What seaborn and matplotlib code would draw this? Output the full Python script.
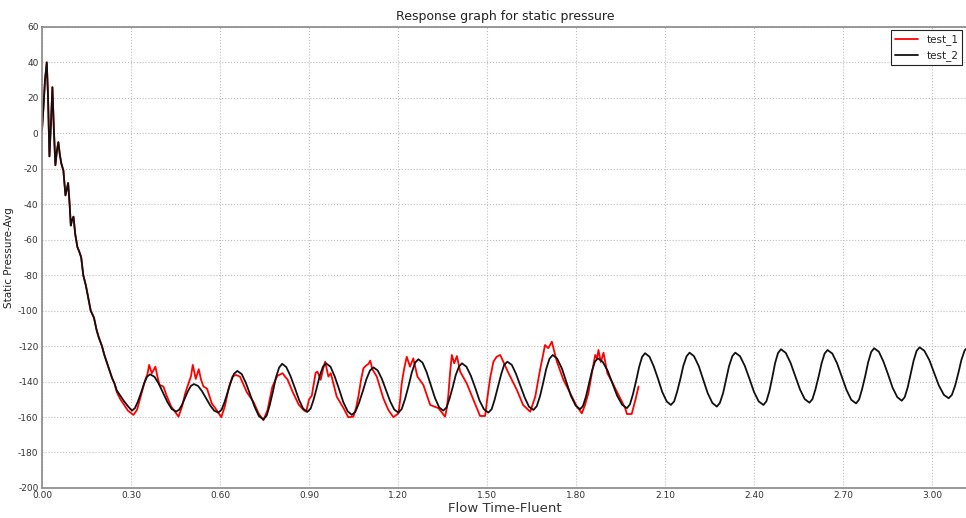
import numpy as np
import pandas as pd
import matplotlib
matplotlib.use("Agg")
import matplotlib.pyplot as plt
import seaborn as sns
from matplotlib.ticker import FormatStrFormatter, MultipleLocator

# Start-up transient, shared by both runs
start_t = [0.000, 0.005, 0.010, 0.016, 0.020, 0.025, 0.030, 0.035, 0.040, 0.045,
           0.050, 0.055, 0.060, 0.065, 0.072, 0.079, 0.084, 0.088, 0.093, 0.097,
           0.101, 0.106, 0.112, 0.119, 0.126, 0.132, 0.139, 0.148, 0.156, 0.164,
           0.175, 0.184, 0.191, 0.202, 0.210, 0.218, 0.228, 0.236, 0.244]
start_p = [2, 15, 30, 40, 22, -13, 5, 26, 2, -18,
           -10, -5, -12, -17, -21, -35, -31, -28, -40, -52,
           -49, -47, -57, -64, -67, -70, -80, -86, -93, -100,
           -104, -111, -115, -120, -125, -129, -134, -138, -141]

# test_1 (red), after the transient
t1_t = [0.252, 0.264, 0.276, 0.290, 0.308, 0.320, 0.335, 0.348, 0.355, 0.361,
        0.370, 0.382, 0.390, 0.396, 0.409, 0.420, 0.435, 0.448, 0.460, 0.472,
        0.482, 0.488, 0.496, 0.502, 0.508, 0.518, 0.528, 0.536, 0.544, 0.556,
        0.572, 0.588, 0.604, 0.616, 0.630, 0.642, 0.654, 0.667, 0.690, 0.712,
        0.730, 0.746, 0.760, 0.776, 0.793, 0.802, 0.811, 0.820, 0.827, 0.845,
        0.865, 0.881, 0.890, 0.900, 0.909, 0.917, 0.922, 0.928, 0.939, 0.947,
        0.954, 0.965, 0.973, 0.983, 0.993, 1.016, 1.032, 1.049, 1.058, 1.066,
        1.075, 1.083, 1.092, 1.100, 1.106, 1.113, 1.128, 1.150, 1.167, 1.184,
        1.201, 1.207, 1.212, 1.220, 1.229, 1.240, 1.251, 1.265, 1.285, 1.308,
        1.336, 1.358, 1.364, 1.369, 1.375, 1.381, 1.389, 1.398, 1.409, 1.431,
        1.454, 1.476, 1.493, 1.500, 1.510, 1.521, 1.532, 1.544, 1.555, 1.572,
        1.600, 1.621, 1.645, 1.662, 1.678, 1.695, 1.706, 1.718, 1.726, 1.735,
        1.757, 1.780, 1.802, 1.819, 1.830, 1.841, 1.852, 1.864, 1.870, 1.875,
        1.883, 1.892, 1.905, 1.920, 1.937, 1.965, 1.971, 1.987, 2.000, 2.010]
t1_p = [-146, -150, -153, -156.5, -158.8, -156, -147, -139, -136, -130.6,
        -135.3, -131.6, -138, -141.9, -142.8, -148, -154, -157, -159.8, -154,
        -147, -143.8, -140, -137, -130.6, -138.5, -133, -139, -142.8, -144,
        -152.3, -156, -160.1, -154, -143, -137, -136.3, -137.2, -146, -151.3,
        -158, -161.8, -156, -143, -136.8, -136, -135.3, -137.5, -138.7, -146,
        -153, -156, -157, -150, -148, -140, -135, -134.4, -139, -133,
        -128.8, -137.2, -135.3, -142, -148.5, -155, -160.1, -159.8, -155, -148.5,
        -139, -132.5, -131, -130, -128.2, -133, -137.2, -149.4, -156, -160.1,
        -157.9, -150, -141, -133, -126, -131.6, -126.9, -137.2, -141.9, -153.2,
        -155, -159.8, -155, -148, -135, -125, -129.7, -125.6, -134.4, -141,
        -150.4, -159.4, -159.4, -150, -138, -128.8, -126, -125, -129, -135.3,
        -144.7, -153.2, -157, -148.5, -133.5, -119.4, -121.2, -117.5, -123, -128.8,
        -139, -146.6, -154.1, -157.9, -153, -146.6, -136, -125, -127, -122.2,
        -129, -123.7, -135.3, -140, -145.7, -155, -158.3, -158.3, -150, -142.8]

# test_2 (black), after the transient
t2_t = [0.252, 0.264, 0.276, 0.290,
        0.303, 0.313, 0.323, 0.334, 0.344, 0.354,
        0.364, 0.379, 0.393, 0.408, 0.423, 0.437,
        0.452, 0.462, 0.472, 0.482, 0.492, 0.502,
        0.512, 0.526, 0.539, 0.553, 0.567, 0.580,
        0.594, 0.605, 0.615, 0.626, 0.637, 0.647,
        0.658, 0.673, 0.687, 0.702, 0.717, 0.731,
        0.746, 0.757, 0.767, 0.778, 0.788, 0.799,
        0.809, 0.823, 0.837, 0.852, 0.866, 0.880,
        0.894, 0.905, 0.915, 0.926, 0.936, 0.947,
        0.957, 0.972, 0.986, 1.001, 1.015, 1.030,
        1.044, 1.056, 1.068, 1.081, 1.093, 1.105,
        1.117, 1.131, 1.145, 1.159, 1.173, 1.187,
        1.201, 1.212, 1.223, 1.235, 1.246, 1.257,
        1.268, 1.282, 1.296, 1.310, 1.324, 1.338,
        1.352, 1.363, 1.373, 1.384, 1.394, 1.405,
        1.415, 1.430, 1.445, 1.460, 1.474, 1.489,
        1.504, 1.515, 1.525, 1.536, 1.547, 1.557,
        1.568, 1.583, 1.597, 1.612, 1.627, 1.641,
        1.656, 1.667, 1.678, 1.689, 1.699, 1.710,
        1.721, 1.736, 1.752, 1.767, 1.782, 1.798,
        1.813, 1.823, 1.833, 1.843, 1.853, 1.863,
        1.873, 1.889, 1.906, 1.922, 1.938, 1.955,
        1.971, 1.981, 1.991, 2.002, 2.012, 2.022,
        2.032, 2.047, 2.061, 2.076, 2.090, 2.105,
        2.119, 2.130, 2.140, 2.151, 2.161, 2.172,
        2.182, 2.197, 2.213, 2.228, 2.243, 2.259,
        2.274, 2.284, 2.295, 2.305, 2.315, 2.326,
        2.336, 2.352, 2.368, 2.384, 2.399, 2.415,
        2.431, 2.441, 2.451, 2.461, 2.470, 2.480,
        2.490, 2.506, 2.522, 2.538, 2.554, 2.570,
        2.586, 2.596, 2.606, 2.617, 2.627, 2.637,
        2.647, 2.663, 2.679, 2.695, 2.711, 2.727,
        2.743, 2.753, 2.763, 2.774, 2.784, 2.794,
        2.804, 2.820, 2.835, 2.851, 2.866, 2.882,
        2.897, 2.907, 2.917, 2.927, 2.937, 2.947,
        2.957, 2.973, 2.990, 3.006, 3.022, 3.039,
        3.055, 3.066, 3.077, 3.088, 3.098, 3.109,
        3.120]
t2_p = [-145, -148, -151, -154,
        -156.4, -155.0, -151.3, -146.2, -141.0, -137.3,
        -135.9, -137.3, -141.1, -146.4, -151.7, -155.5,
        -156.9, -155.9, -153.0, -149.2, -145.3, -142.4,
        -141.4, -142.5, -145.4, -149.5, -153.5, -156.4,
        -157.5, -155.9, -151.6, -145.8, -139.9, -135.6,
        -134.0, -135.8, -140.8, -147.7, -154.5, -159.5,
        -161.3, -159.2, -153.5, -145.7, -137.8, -132.1,
        -130.0, -131.8, -136.8, -143.6, -150.3, -155.3,
        -157.1, -155.3, -150.3, -143.4, -136.6, -131.5,
        -129.7, -131.6, -137.0, -144.3, -151.5, -156.8,
        -158.8, -157.0, -152.1, -145.4, -138.7, -133.8,
        -132.0, -133.7, -138.4, -144.8, -151.1, -155.8,
        -157.5, -155.5, -150.0, -142.5, -134.9, -129.4,
        -127.4, -129.3, -134.7, -141.9, -149.2, -154.5,
        -156.4, -154.6, -149.7, -143.1, -136.4, -131.5,
        -129.7, -131.6, -136.7, -143.6, -150.6, -155.6,
        -157.5, -155.6, -150.3, -143.2, -136.0, -130.7,
        -128.8, -130.6, -135.6, -142.4, -149.2, -154.2,
        -156.0, -153.9, -148.3, -140.5, -132.8, -127.1,
        -125.0, -127.1, -132.7, -140.3, -148.0, -153.5,
        -155.6, -153.7, -148.4, -141.3, -134.1, -128.8,
        -126.9, -128.8, -133.9, -141.0, -148.0, -153.1,
        -155.0, -152.9, -147.3, -139.5, -131.8, -126.1,
        -124.0, -126.0, -131.3, -138.6, -145.9, -151.2,
        -153.2, -151.2, -145.8, -138.5, -131.1, -125.7,
        -123.7, -125.7, -131.3, -138.9, -146.5, -152.1,
        -154.1, -152.1, -146.5, -138.9, -131.3, -125.7,
        -123.7, -125.7, -131.1, -138.5, -145.8, -151.2,
        -153.2, -151.1, -145.4, -137.5, -129.7, -123.9,
        -121.8, -123.8, -129.3, -136.9, -144.4, -149.9,
        -151.9, -149.9, -144.5, -137.1, -129.6, -124.2,
        -122.2, -124.2, -129.7, -137.3, -144.8, -150.3,
        -152.3, -150.2, -144.5, -136.8, -129.0, -123.3,
        -121.2, -123.2, -128.6, -136.0, -143.4, -148.8,
        -150.8, -148.8, -143.3, -135.8, -128.2, -122.7,
        -120.7, -122.6, -127.9, -135.1, -142.2, -147.5,
        -149.4, -147.5, -142.2, -135.0, -127.8, -122.4,
        -120.5]

series_names = ["test_1", "test_2"]
series_colors = ["#ff0000", "#111111"]
x_ticks = [0.00, 0.30, 0.60, 0.90, 1.20, 1.50, 1.80, 2.10, 2.40, 2.70, 3.00]

df = pd.concat([
    pd.DataFrame({"time": start_t + t1_t, "pressure": start_p + t1_p, "run": "test_1"}),
    pd.DataFrame({"time": start_t + t2_t, "pressure": start_p + t2_p, "run": "test_2"}),
])

sns.set_style("whitegrid", {"grid.linestyle": ":", "grid.color": "#bdbdbd",
                            "axes.edgecolor": "#888888"})
plt.rcParams['font.family'] = ['DejaVu Sans']
plt.rcParams['axes.unicode_minus'] = False

fig = plt.figure(figsize=(9.66, 5.18), dpi=100)
# the right edge of the plot area runs just past the figure, as in the original
ax = fig.add_axes([0.0435, 0.058, 0.9585, 0.89])

sns.lineplot(data=df, x="time", y="pressure", hue="run", hue_order=series_names,
             palette=series_colors, estimator=None, sort=False, linewidth=1.3, ax=ax)

ax.set_xlim(0, 3.12)
ax.set_ylim(-200, 60)
ax.set_xticks(x_ticks)
ax.xaxis.set_major_formatter(FormatStrFormatter("%.2f"))
ax.yaxis.set_major_locator(MultipleLocator(20))
ax.tick_params(labelsize=6.5, colors="#333333", length=0, pad=2.5)
for s in ax.spines.values():
    s.set_linewidth(1.2)

ax.set_title("Response graph for static pressure", fontsize=9, color="#222222", pad=5)
ax.set_xlabel("Flow Time-Fluent", fontsize=9.5, color="#333333", labelpad=1)
ax.set_ylabel("Static Pressure-Avg", fontsize=7.5, color="#222222", labelpad=3)

leg = ax.legend(loc="upper right", bbox_to_anchor=(0.9975, 1.0), fontsize=7.5,
                fancybox=False, framealpha=1, edgecolor="#222222",
                handlelength=2.2, borderaxespad=0.3)
leg.get_frame().set_linewidth(0.8)

fig.savefig("out.png", dpi=100)
